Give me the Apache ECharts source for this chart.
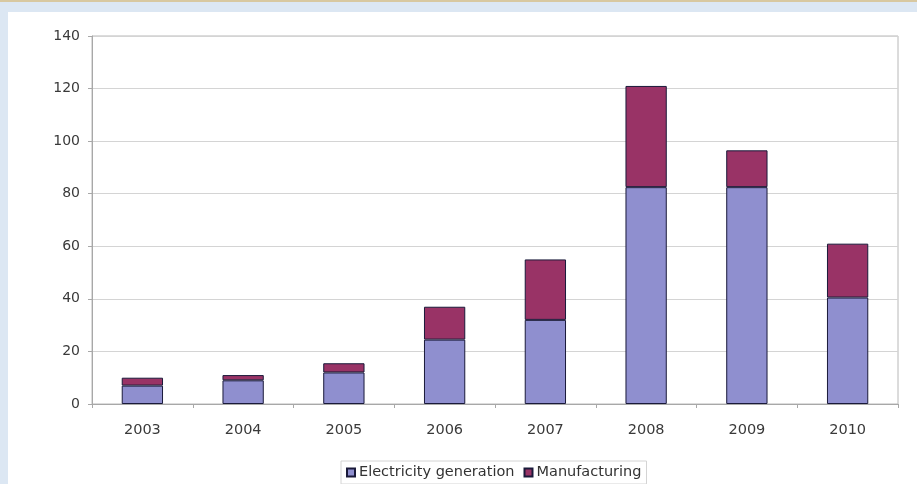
<!DOCTYPE html>
<html><head><meta charset="utf-8">
<script src="https://cdn.jsdelivr.net/npm/echarts@6/dist/echarts.min.js"></script>
<style>
html,body{margin:0;padding:0;background:#dce7f3;}
#wrap{position:absolute;left:0;top:0;width:917px;height:484px;background:#dce7f3;}
#line{position:absolute;left:0;top:0;width:917px;height:2px;background:#d8c8a0;}
#c{position:absolute;left:8px;top:12px;width:909px;height:472px;background:#fff;}
</style></head>
<body><div id="wrap"><div id="line"></div><div id="c"></div></div>
<script>
var categories = ['2003','2004','2005','2006','2007','2008','2009','2010'];
var electricity = [7, 9, 12, 24.5, 32, 82.5, 82.5, 40.5];
var manufacturing = [3, 2, 3.5, 12.5, 23, 38.5, 14, 20.5];
var seriesNames = ['Electricity generation', 'Manufacturing'];
var yTicks = [0, 20, 40, 60, 80, 100, 120, 140];

var chart = echarts.init(document.getElementById('c'), null, {renderer:'canvas'});
var font = 'DejaVu Sans, sans-serif';
chart.setOption({
  animation:false,
  grid:{left:84, right:19, top:24, bottom:80, show:true, borderColor:'#b8b8b8', borderWidth:1},
  legend:{
    top:449, left:333, itemWidth:8, itemHeight:8, itemGap:9, icon:'rect',
    borderColor:'#d4d4d4', borderWidth:1, padding:[4,5],
    textStyle:{fontFamily:font, fontSize:14.5, color:'#333', padding:[0,0,0,-1]},
    data:seriesNames
  },
  xAxis:{
    type:'category', data:categories,
    axisLine:{lineStyle:{color:'#a8a8a8'}},
    axisTick:{show:true, length:4, lineStyle:{color:'#a8a8a8'}},
    axisLabel:{fontFamily:font, fontSize:14.5, color:'#3a3a3a', margin:19}
  },
  yAxis:{
    type:'value', min:yTicks[0], max:yTicks[yTicks.length-1], interval:yTicks[1]-yTicks[0],
    axisLine:{show:true, lineStyle:{color:'#a8a8a8'}},
    axisTick:{show:true, length:4, lineStyle:{color:'#a8a8a8'}},
    axisLabel:{fontFamily:font, fontSize:14, color:'#3a3a3a', margin:12},
    splitLine:{lineStyle:{color:'#d4d4d4'}}
  },
  series:[
    {name:seriesNames[0], type:'bar', stack:'a', data:electricity, barWidth:'41%',
     itemStyle:{color:'#8f8fcf', borderColor:'#1a1a3a', borderWidth:1}},
    {name:seriesNames[1], type:'bar', stack:'a', data:manufacturing, barWidth:'41%',
     itemStyle:{color:'#993366', borderColor:'#1a1a3a', borderWidth:1}}
  ]
});
</script></body></html>
